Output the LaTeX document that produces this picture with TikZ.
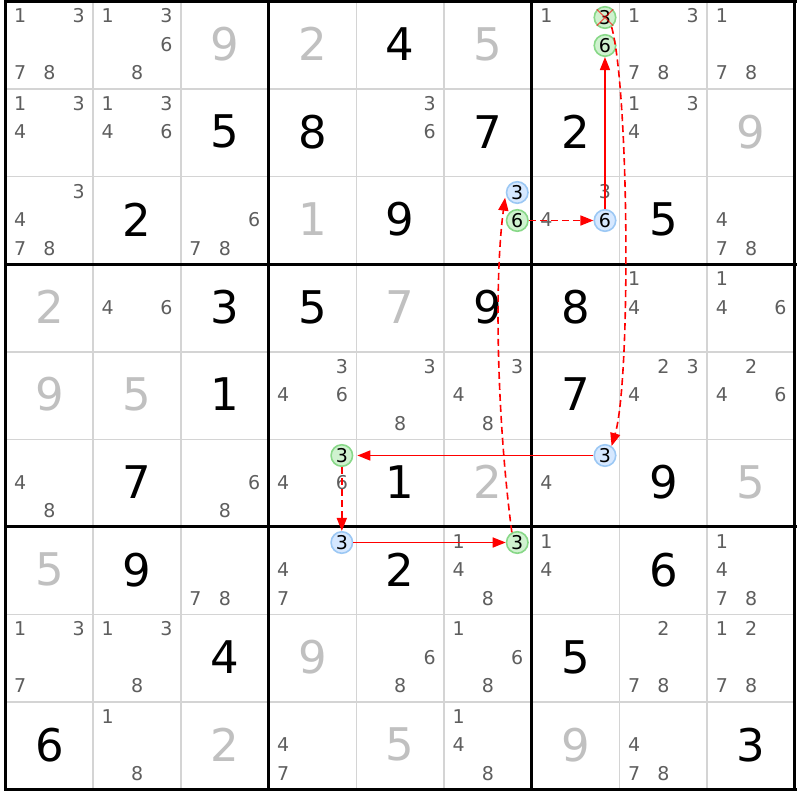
\documentclass[tikz,border=0pt]{standalone}
\usepackage{fontspec}
\setmainfont{DejaVu Sans}
\usetikzlibrary{arrows.meta}
\definecolor{candgray}{HTML}{5E5E5E}
\definecolor{solgray}{HTML}{C0C0C0}
\definecolor{thingray}{HTML}{D4D4D4}
\definecolor{bluedraw}{HTML}{9CC8F4}
\definecolor{bluefill}{HTML}{D6E8FF}
\definecolor{greendraw}{HTML}{88D888}
\definecolor{greenfill}{HTML}{CFF2CF}
\definecolor{linkred}{HTML}{FF0000}
\tikzset{
  givendig/.style={text=black,font=\fontsize{45}{45}\selectfont,inner sep=0pt},
  solveddig/.style={text=solgray,font=\fontsize{45}{45}\selectfont,inner sep=0pt},
  canddig/.style={text=candgray,font=\fontsize{19}{19}\selectfont,inner sep=0pt},
  bluec/.style={circle,draw=bluedraw,fill=bluefill,line width=1.6pt,minimum size=21.5pt,inner sep=0pt,font=\fontsize{19}{19}\selectfont,text=black},
  greenc/.style={circle,draw=greendraw,fill=greenfill,line width=1.6pt,minimum size=21.5pt,inner sep=0pt,font=\fontsize{19}{19}\selectfont,text=black},
  stronglink/.style={draw=linkred,line width=1.6pt,-{Triangle[length=13pt,width=10pt,fill=linkred]}},
  weaklink/.style={draw=linkred,line width=1.6pt,dash pattern=on 7pt off 4pt,-{Triangle[length=13pt,width=10pt,fill=linkred]}},
  thinline/.style={thingray,line width=1.6pt},
  thickline/.style={black,line width=3pt},
}
\newcommand\cpos[3]{({5.5+(#2-0.5)*87.72+(mod(#3-1,3)-1)*29.3},{1.5+(#1-0.5)*87.56+(int((#3-1)/3)-1)*28.5-0.8})}
\newcommand\lpos[3]{({5.5+(#2-0.5)*87.72+(mod(#3-1,3)-1)*29.3},{round(1.5+(#1-0.5)*87.56+(int((#3-1)/3)-1)*28.5)+0.5})}
\newcommand\givenD[3]{\node[givendig] (n-#1-#2) at ({5.5+(#2-0.5)*87.72},{1.5+(#1-0.5)*87.56-1}) {#3};}
\newcommand\solvedD[3]{\node[solveddig] (n-#1-#2) at ({5.5+(#2-0.5)*87.72},{1.5+(#1-0.5)*87.56-1}) {#3};}
\newcommand\candD[3]{\foreach \dd in {#3}{\node[canddig] (k-#1-#2-\dd) at \cpos{#1}{#2}{\dd} {\dd};}}
\begin{document}
\begin{tikzpicture}[x=1pt,y=-1pt]
\useasboundingbox[fill=white] (0,0) rectangle (800,800);
% thin lines
\foreach \i in {1,2,4,5,7,8}{
  \draw[thinline] ({5.5+\i*87.72},1.5) -- ({5.5+\i*87.72},789.5);
  \draw[thinline] (5.5,{1.5+\i*87.56}) -- (795,{1.5+\i*87.56});
}
% thick lines
\foreach \i in {0,3,6,9}{
  \draw[thickline] ({5.5+\i*87.72},0) -- ({5.5+\i*87.72},791);
  \draw[thickline] (4,{1.5+\i*87.56}) -- (796.5,{1.5+\i*87.56});
}
% row 1
\candD{1}{1}{1,3,7,8}\candD{1}{2}{1,3,6,8}\solvedD{1}{3}{9}\solvedD{1}{4}{2}\givenD{1}{5}{4}\solvedD{1}{6}{5}
\candD{1}{7}{1}\candD{1}{8}{1,3,7,8}\candD{1}{9}{1,7,8}
% row 2
\candD{2}{1}{1,3,4}\candD{2}{2}{1,3,4,6}\givenD{2}{3}{5}\givenD{2}{4}{8}\candD{2}{5}{3,6}\givenD{2}{6}{7}
\givenD{2}{7}{2}\candD{2}{8}{1,3,4}\solvedD{2}{9}{9}
% row 3
\candD{3}{1}{3,4,7,8}\givenD{3}{2}{2}\candD{3}{3}{6,7,8}\solvedD{3}{4}{1}\givenD{3}{5}{9}
\candD{3}{7}{3,4}\givenD{3}{8}{5}\candD{3}{9}{4,7,8}
% row 4
\solvedD{4}{1}{2}\candD{4}{2}{4,6}\givenD{4}{3}{3}\givenD{4}{4}{5}\solvedD{4}{5}{7}\givenD{4}{6}{9}
\givenD{4}{7}{8}\candD{4}{8}{1,4}\candD{4}{9}{1,4,6}
% row 5
\solvedD{5}{1}{9}\solvedD{5}{2}{5}\givenD{5}{3}{1}\candD{5}{4}{3,4,6}\candD{5}{5}{3,8}\candD{5}{6}{3,4,8}
\givenD{5}{7}{7}\candD{5}{8}{2,3,4}\candD{5}{9}{2,4,6}
% row 6
\candD{6}{1}{4,8}\givenD{6}{2}{7}\candD{6}{3}{6,8}\candD{6}{4}{4,6}\givenD{6}{5}{1}\solvedD{6}{6}{2}
\candD{6}{7}{4}\givenD{6}{8}{9}\solvedD{6}{9}{5}
% row 7
\solvedD{7}{1}{5}\givenD{7}{2}{9}\candD{7}{3}{7,8}\candD{7}{4}{4,7}\givenD{7}{5}{2}\candD{7}{6}{1,4,8}
\candD{7}{7}{1,4}\givenD{7}{8}{6}\candD{7}{9}{1,4,7,8}
% row 8
\candD{8}{1}{1,3,7}\candD{8}{2}{1,3,8}\givenD{8}{3}{4}\solvedD{8}{4}{9}\candD{8}{5}{6,8}\candD{8}{6}{1,6,8}
\givenD{8}{7}{5}\candD{8}{8}{2,7,8}\candD{8}{9}{1,2,7,8}
% row 9
\givenD{9}{1}{6}\candD{9}{2}{1,8}\solvedD{9}{3}{2}\candD{9}{4}{4,7}\solvedD{9}{5}{5}\candD{9}{6}{1,4,8}
\solvedD{9}{7}{9}\candD{9}{8}{4,7,8}\givenD{9}{9}{3}
% circled candidates (centres snapped to pixel rows so horizontal links stay crisp)
\node[greenc] (g173) at \lpos{1}{7}{3} {3};
\node[greenc] (g176) at \lpos{1}{7}{6} {6};
\node[bluec]  (b363) at \lpos{3}{6}{3} {3};
\node[greenc] (g366) at \lpos{3}{6}{6} {6};
\node[bluec]  (b376) at \lpos{3}{7}{6} {6};
\node[greenc] (g643) at \lpos{6}{4}{3} {3};
\node[bluec]  (b673) at \lpos{6}{7}{3} {3};
\node[bluec]  (b743) at \lpos{7}{4}{3} {3};
\node[greenc] (g763) at \lpos{7}{6}{3} {3};
% elimination cross
\draw[linkred,draw opacity=0.6,line width=1.1pt] (g173.135) -- (g173.-45) (g173.45) -- (g173.-135);
% links
\draw[weaklink] (g366.east) -- (b376.west);
\draw[stronglink] (b376.north) -- (g176.south);
\draw[weaklink] (g173.-55) .. controls (629,90) and (631,380) .. (b673.55);
\draw[stronglink] (b673.west) -- ([xshift=4pt]g643.east);
\draw[weaklink] (g643.south) -- (b743.north);
\draw[stronglink] (b743.east) -- (g763.west);
\draw[weaklink] (g763.118) .. controls (497,420) and (494,280) .. ([shift={(-4pt,3pt)}]b363.-135);
\end{tikzpicture}
\end{document}
